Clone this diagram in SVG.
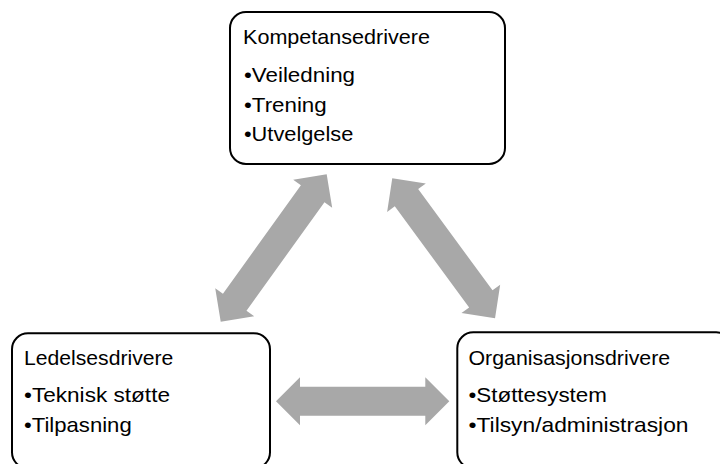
<svg xmlns="http://www.w3.org/2000/svg" width="720" height="464" viewBox="0 0 720 464">
<style>
.box{fill:#FFFFFF;stroke:#000000;stroke-width:2}
.t{font-family:"Liberation Sans",Arial,sans-serif;font-size:21px;fill:#000000}
.arr{fill:#A8A8A8}
</style>
<rect width="720" height="464" fill="#FFFFFF"/>
<g id="connectors">
<path class="arr" transform="translate(273.7,248) rotate(-54.3)" d="M-90.8,0 L-66.8,-24 L-66.8,-14.5 L66.8,-14.5 L66.8,-24 L90.8,0 L66.8,24 L66.8,14.5 L-66.8,14.5 L-66.8,24 Z"/>
<path class="arr" transform="translate(443.65,248.3) rotate(53.7)" d="M-86.8,0 L-62.8,-24 L-62.8,-14.5 L62.8,-14.5 L62.8,-24 L86.8,0 L62.8,24 L62.8,14.5 L-62.8,14.5 L-62.8,24 Z"/>
<path class="arr" transform="translate(362.65,401.3)" d="M-86.65,0 L-62.65,-24 L-62.65,-14.5 L62.65,-14.5 L62.65,-24 L86.65,0 L62.65,24 L62.65,14.5 L-62.65,14.5 L-62.65,24 Z"/>
</g>
<g id="node-kompetanse">
<rect class="box" x="230" y="12" width="275" height="152" rx="16" ry="16"/>
<text class="t" x="243" y="43.5" textLength="187" lengthAdjust="spacingAndGlyphs">Kompetansedrivere</text>
<text class="t" x="244" y="81.7" textLength="111" lengthAdjust="spacingAndGlyphs">•Veiledning</text>
<text class="t" x="244" y="111.7" textLength="82.7" lengthAdjust="spacingAndGlyphs">•Trening</text>
<text class="t" x="244" y="140.7" textLength="109.3" lengthAdjust="spacingAndGlyphs">•Utvelgelse</text>
</g>
<g id="node-ledelse">
<rect class="box" x="12" y="333.3" width="258" height="135" rx="16" ry="16"/>
<text class="t" x="24" y="365" textLength="149.3" lengthAdjust="spacingAndGlyphs">Ledelsesdrivere</text>
<text class="t" x="24" y="401.7" textLength="146" lengthAdjust="spacingAndGlyphs">•Teknisk støtte</text>
<text class="t" x="24" y="431.7" textLength="107.7" lengthAdjust="spacingAndGlyphs">•Tilpasning</text>
</g>
<g id="node-organisasjon">
<rect class="box" x="457.3" y="332.3" width="275" height="136" rx="16" ry="16"/>
<text class="t" x="468.5" y="365" textLength="201.7" lengthAdjust="spacingAndGlyphs">Organisasjonsdrivere</text>
<text class="t" x="468.5" y="401.7" textLength="138.4" lengthAdjust="spacingAndGlyphs">•Støttesystem</text>
<text class="t" x="468.5" y="431.7" textLength="220" lengthAdjust="spacingAndGlyphs">•Tilsyn/administrasjon</text>
</g>
</svg>
